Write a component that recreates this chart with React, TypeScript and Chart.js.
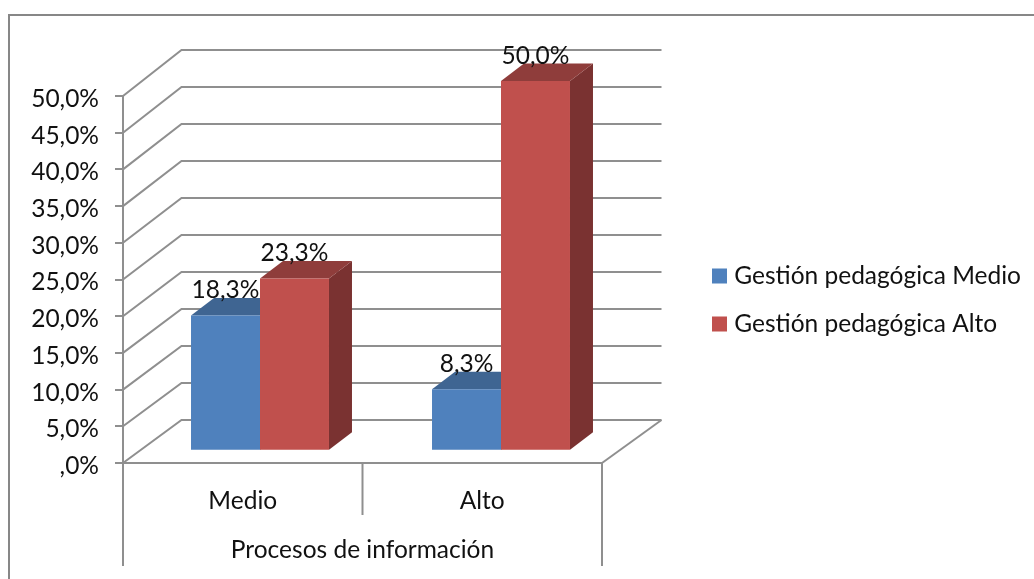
import React, { useEffect, useRef } from "react";
import { Chart, registerables } from "chart.js";

Chart.register(...registerables);

const categories = ["Medio", "Alto"];
const seriesNames = ["Gestión pedagógica Medio", "Gestión pedagógica Alto"];
const medioValues = [18.3, 8.3];
const altoValues = [23.3, 50.0];
const axisTitle = "Procesos de información";

const FONT = "Lato";
const FONT_SIZE = 24.5;
const GRAY = "#8f8f8f";
const TEXT = "#111111";
const FRONT = ["#4f81bd", "#c0504d"];
const TOP = ["#3f6592", "#8f3d3b"];
const SIDE = ["#34567d", "#7a3231"];

// 3D box geometry of the fake depth
const BAR_DX = 23;
const BAR_DY = -17.5;
const WALL_DX = 58.5;
const WALL_BOTTOM = 420;
const WALL_STEP_RATIO = 37 / 36.7;
const LEGEND_PADDING = 23.5;

const fmt = (v: number) =>
  v === 0 ? ",0%" : v.toFixed(1).replace(".", ",") + "%";

const depthPlugin = {
  id: "depth",
  beforeLayout(chart: any) {
    const legend = chart.legend;
    if (legend && !legend.__patched) {
      const orig = legend.fit;
      legend.fit = function () {
        orig.call(this);
        this.width = 432;
      };
      legend.__patched = true;
    }
  },
  afterLayout(chart: any) {
    const legend = chart.legend;
    legend.left = 717 - LEGEND_PADDING;
    legend.right = 1034;
    legend.top = 276 - FONT_SIZE / 2 - LEGEND_PADDING;
    legend.bottom = 579;
  },
  beforeDraw(chart: any) {
    const { ctx, scales, chartArea } = chart;
    const y = scales.y;
    const x = scales.x;
    ctx.save();
    ctx.fillStyle = "#ffffff";
    ctx.fillRect(0, 0, chart.width, chart.height);
    ctx.strokeStyle = "#878787";
    ctx.lineWidth = 2;
    ctx.beginPath();
    ctx.moveTo(9, 579);
    ctx.lineTo(9, 15);
    ctx.lineTo(1034, 15);
    ctx.stroke();

    ctx.strokeStyle = GRAY;
    ctx.lineWidth = 2;
    const bottom = chartArea.bottom;
    const left = chartArea.left;
    const right = chartArea.right;
    y.ticks.forEach((t: any) => {
      const fy = y.getPixelForValue(t.value);
      const by = WALL_BOTTOM + (fy - bottom) * WALL_STEP_RATIO;
      ctx.beginPath();
      ctx.moveTo(left, fy);
      ctx.lineTo(left + WALL_DX, by);
      ctx.lineTo(right + WALL_DX + 1, by);
      ctx.stroke();
    });
    // floor edge on the right
    ctx.beginPath();
    ctx.moveTo(right, bottom);
    ctx.lineTo(right + WALL_DX + 1, WALL_BOTTOM);
    ctx.stroke();
    // multi-level category separators
    ctx.beginPath();
    ctx.moveTo(left, bottom);
    ctx.lineTo(left, 566);
    ctx.moveTo(right, bottom);
    ctx.lineTo(right, 566);
    const mid = (x.getPixelForValue(0) + x.getPixelForValue(1)) / 2;
    ctx.moveTo(mid, bottom);
    ctx.lineTo(mid, 515);
    ctx.stroke();
    ctx.restore();
  },
  beforeDatasetsDraw(chart: any) {
    const { ctx, chartArea } = chart;
    const x = chart.scales.x;
    const c0 = x.getPixelForValue(0);
    const c1 = x.getPixelForValue(1);
    const sx = 241 / (c1 - c0);
    const sy = 1.0074;
    const e = 260 - c0 * sx;
    const f = 450.7 - chartArea.bottom * sy;
    chart.__map = { sx, sy, e, f };
    // side and top faces first, so the library's front faces lie over them
    chart.data.datasets.forEach((_: any, i: number) => {
      chart.getDatasetMeta(i).data.forEach((el: any) => {
        const l = (el.x - el.width / 2) * sx + e;
        const r = (el.x + el.width / 2) * sx + e;
        const t = el.y * sy + f;
        const b = el.base * sy + f;
        ctx.fillStyle = SIDE[i];
        ctx.beginPath();
        ctx.moveTo(r, t);
        ctx.lineTo(r + BAR_DX, t + BAR_DY);
        ctx.lineTo(r + BAR_DX, b + BAR_DY);
        ctx.lineTo(r, b);
        ctx.closePath();
        ctx.fill();
        ctx.fillStyle = TOP[i];
        ctx.beginPath();
        ctx.moveTo(l, t);
        ctx.lineTo(l + BAR_DX, t + BAR_DY);
        ctx.lineTo(r + BAR_DX, t + BAR_DY);
        ctx.lineTo(r, t);
        ctx.closePath();
        ctx.fill();
      });
    });
    ctx.save();
    ctx.transform(sx, 0, 0, sy, e, f);
  },
  afterDatasetsDraw(chart: any) {
    const { ctx } = chart;
    ctx.restore();
    const { sx, sy, e, f } = chart.__map;
    ctx.save();
    ctx.font = `${FONT_SIZE}px ${FONT}`;
    ctx.fillStyle = TEXT;
    ctx.textAlign = "center";
    ctx.textBaseline = "middle";
    chart.data.datasets.forEach((ds: any, i: number) => {
      chart.getDatasetMeta(i).data.forEach((el: any, j: number) => {
        ctx.fillText(fmt(ds.data[j]), el.x * sx + e, el.y * sy + f - 25);
      });
    });
    ctx.restore();
  },
};

export default function App() {
  const ref = useRef<HTMLCanvasElement>(null);
  useEffect(() => {
    const chart = new Chart(ref.current as HTMLCanvasElement, {
      type: "bar",
      data: {
        labels: categories,
        datasets: [
          {
            label: seriesNames[0],
            data: medioValues,
            backgroundColor: FRONT[0],
            categoryPercentage: 0.5725,
            barPercentage: 1,
            clip: false,
          },
          {
            label: seriesNames[1],
            data: altoValues,
            backgroundColor: FRONT[1],
            categoryPercentage: 0.5725,
            barPercentage: 1,
            clip: false,
          },
        ],
      },
      options: {
        animation: false,
        responsive: false,
        layout: { padding: { top: 96, left: 0, right: 0, bottom: 0 } },
        plugins: {
          tooltip: { enabled: false },
          legend: {
            position: "right",
            align: "start",
            labels: {
              usePointStyle: true,
              pointStyle: "rect",
              boxWidth: 5,
              boxHeight: 15,
              padding: LEGEND_PADDING,
              color: TEXT,
              font: { family: FONT, size: FONT_SIZE },
            },
          },
        },
        scales: {
          x: {
            afterFit: (s: any) => {
              s.height = 116;
            },
            grid: { display: false },
            border: { color: GRAY, width: 2 },
            ticks: {
              color: TEXT,
              padding: 15,
              maxRotation: 0,
              font: { family: FONT, size: FONT_SIZE },
            },
            title: {
              display: true,
              text: axisTitle,
              color: TEXT,
              font: { family: FONT, size: FONT_SIZE },
              padding: { top: 0, bottom: 14 },
            },
          },
          y: {
            min: 0,
            max: 50,
            afterFit: (s: any) => {
              s.width = 123;
            },
            grid: {
              drawOnChartArea: false,
              tickLength: 8,
              color: GRAY,
              lineWidth: 2,
            },
            border: { color: GRAY, width: 2 },
            ticks: {
              stepSize: 5,
              padding: 16,
              labelOffset: 3,
              color: TEXT,
              font: { family: FONT, size: FONT_SIZE },
              callback: (v: any) => fmt(Number(v)),
            },
          },
        },
      },
      plugins: [depthPlugin],
    } as any);
    return () => chart.destroy();
  }, []);
  return (
    <div style={{ position: "absolute", left: 0, top: 0, width: 1034, height: 579 }}>
      <canvas ref={ref} width={1034} height={579} style={{ display: "block" }} />
    </div>
  );
}
